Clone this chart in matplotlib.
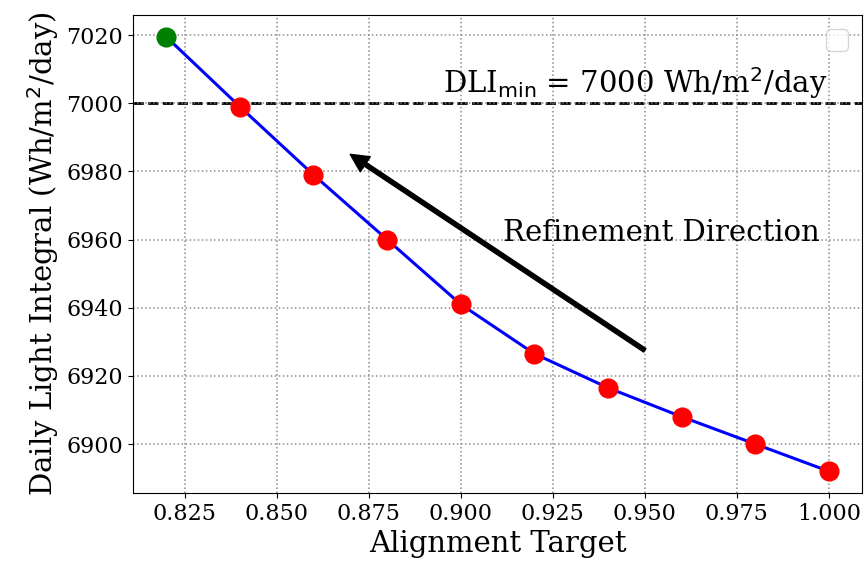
import matplotlib
matplotlib.use("Agg")
import matplotlib.pyplot as plt
import numpy as np

alignment = [0.82, 0.84, 0.86, 0.88, 0.90, 0.92, 0.94, 0.96, 0.98, 1.00]
dli = [7019.5, 6999.0, 6979.0, 6960.0, 6941.0, 6926.5, 6916.5, 6908.0, 6900.0, 6892.0]
dli_min = 7000

plt.rcParams['font.family'] = 'DejaVu Serif'

fig = plt.figure(figsize=(8.64, 5.72), dpi=100)
ax = fig.add_axes([133/864, 1 - 493/572, (862-133)/864, (493-15)/572])

ax.plot(alignment, dli, color='blue', lw=2.2, zorder=2)
ax.plot(alignment[1:], dli[1:], 'o', color='red', ms=13.5, zorder=3)
ax.plot(alignment[:1], dli[:1], 'o', color='green', ms=13.5, zorder=3)
ax.axhline(dli_min, color='black', ls='--', lw=2, zorder=1)

ax.text(0.9995, 7006, r'DLI$_{\min}$ = 7000 Wh/m$^2$/day', fontsize=21,
        ha='right', va='center')
ax.annotate('', xy=(0.87, 6985), xytext=(0.95, 6927.5),
            arrowprops=dict(facecolor='black', edgecolor='black', width=3,
                            headwidth=13, headlength=13))
ax.text(0.9115, 6962, 'Refinement Direction', fontsize=21, ha='left', va='center')

ax.grid(True, ls=':', color='gray', lw=1.1, alpha=0.9)
ax.set_xlabel('Alignment Target', fontsize=21)
ax.set_ylabel(r'Daily Light Integral (Wh/m$^2$/day)', fontsize=21)
ax.tick_params(labelsize=16)
ax.set_xticks([0.825, 0.85, 0.875, 0.9, 0.925, 0.95, 0.975, 1.0])
ax.set_yticks([6900, 6920, 6940, 6960, 6980, 7000, 7020])
ax.legend(loc='upper right', fontsize=20)

fig.savefig('out.png', dpi=100)
